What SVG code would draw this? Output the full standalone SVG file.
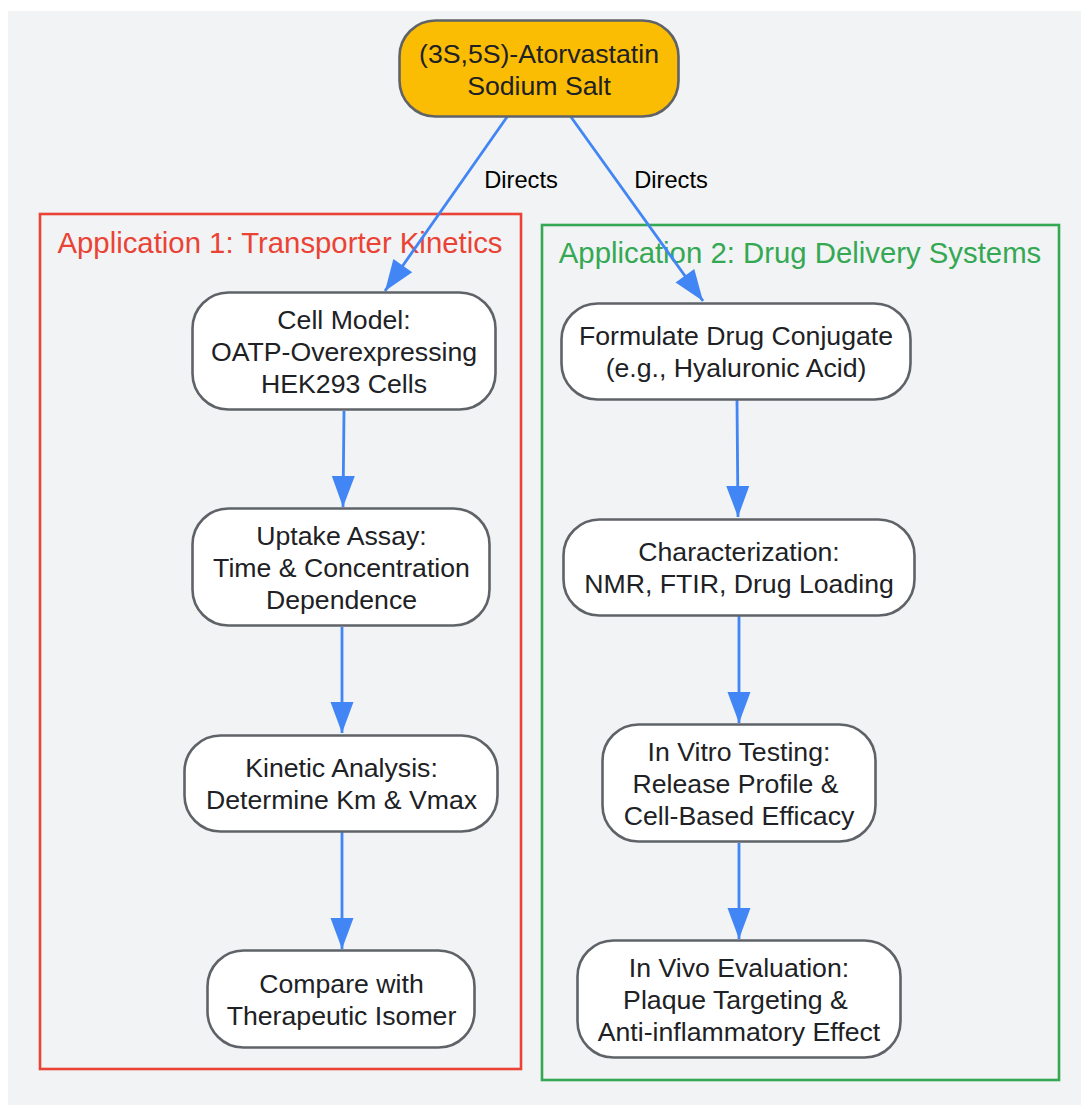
<svg xmlns="http://www.w3.org/2000/svg" width="1081" height="1105" viewBox="0 0 1081 1105">
<defs>
<marker id="arrow" markerUnits="userSpaceOnUse" markerWidth="34" markerHeight="24" refX="31" refY="12" viewBox="0 0 34 24" orient="auto" overflow="visible"><path d="M0 0.5L31 12L0 23.5Z" fill="#4285f4"/></marker>
</defs>
<style>
text{font-family:"Liberation Sans",Arial,sans-serif;text-anchor:middle}
.n{fill:#fff;stroke:#5f6368;stroke-width:2.6}
.t{font-size:26.67px;fill:#202124}
.c{fill:none;stroke:#4285f4;stroke-width:2.8;marker-end:url(#arrow)}
.l{font-size:23.7px;fill:#000}
</style>
<rect x="8" y="11" width="1073" height="1094" fill="#f1f3f4"/>
<g id="cluster1"><rect x="40" y="214" width="481" height="855" fill="none" stroke="#ea4335" stroke-width="2.6"/><text x="280" y="253" font-size="29.33px" fill="#ea4335">Application 1: Transporter Kinetics</text></g>
<g id="cluster2"><rect x="542" y="225" width="517" height="855" fill="none" stroke="#34a853" stroke-width="2.6"/><text x="800" y="263" font-size="29.33px" fill="#34a853">Application 2: Drug Delivery Systems</text></g>
<g id="connectors">
<path class="c" d="M507 117L385 291"/>
<path class="c" d="M571 117L703 301"/>
<path class="c" d="M344 411L343 507"/>
<path class="c" d="M342 627L342 733"/>
<path class="c" d="M342 832L342 949"/>
<path class="c" d="M737 400L738 517"/>
<path class="c" d="M739 616L739 723"/>
<path class="c" d="M739 843L739 939"/>
<text class="l" x="521" y="188">Directs</text>
<text class="l" x="671" y="188">Directs</text>
</g>
<g id="n0"><rect x="399.5" y="20.5" width="279" height="96" rx="36" fill="#fbbc04" stroke="#5f6368" stroke-width="2.6"/><text class="t" x="539" y="63">(3S,5S)-Atorvastatin</text><text class="t" x="539" y="95">Sodium Salt</text></g>
<g id="n1"><rect class="n" x="192.5" y="292.5" width="303" height="117" rx="36"/><text class="t" x="344" y="329">Cell Model:</text><text class="t" x="344" y="361">OATP-Overexpressing</text><text class="t" x="344" y="393">HEK293 Cells</text></g>
<g id="n2"><rect class="n" x="192.5" y="508.5" width="297" height="117" rx="36"/><text class="t" x="341.5" y="545">Uptake Assay:</text><text class="t" x="341.5" y="577">Time &amp; Concentration</text><text class="t" x="341.5" y="609">Dependence</text></g>
<g id="n3"><rect class="n" x="184.5" y="735.5" width="313" height="96" rx="36"/><text class="t" x="341.5" y="777">Kinetic Analysis:</text><text class="t" x="341.5" y="809">Determine Km &amp; Vmax</text></g>
<g id="n4"><rect class="n" x="207.5" y="950.5" width="267" height="97" rx="36"/><text class="t" x="341.5" y="993">Compare with</text><text class="t" x="341.5" y="1025">Therapeutic Isomer</text></g>
<g id="n5"><rect class="n" x="561.5" y="303.5" width="349" height="96" rx="36"/><text class="t" x="736" y="345">Formulate Drug Conjugate</text><text class="t" x="736" y="377">(e.g., Hyaluronic Acid)</text></g>
<g id="n6"><rect class="n" x="563.5" y="519.5" width="351" height="96" rx="36"/><text class="t" x="739" y="561">Characterization:</text><text class="t" x="739" y="593">NMR, FTIR, Drug Loading</text></g>
<g id="n7"><rect class="n" x="602.5" y="724.5" width="273" height="117" rx="36"/><text class="t" x="739" y="761">In Vitro Testing:</text><text class="t" x="735.5" y="793">Release Profile &amp;</text><text class="t" x="739" y="825">Cell-Based Efficacy</text></g>
<g id="n8"><rect class="n" x="577.5" y="940.5" width="323" height="117" rx="36"/><text class="t" x="739" y="977">In Vivo Evaluation:</text><text class="t" x="735.5" y="1009">Plaque Targeting &amp;</text><text class="t" x="739" y="1041">Anti-inflammatory Effect</text></g>
</svg>
